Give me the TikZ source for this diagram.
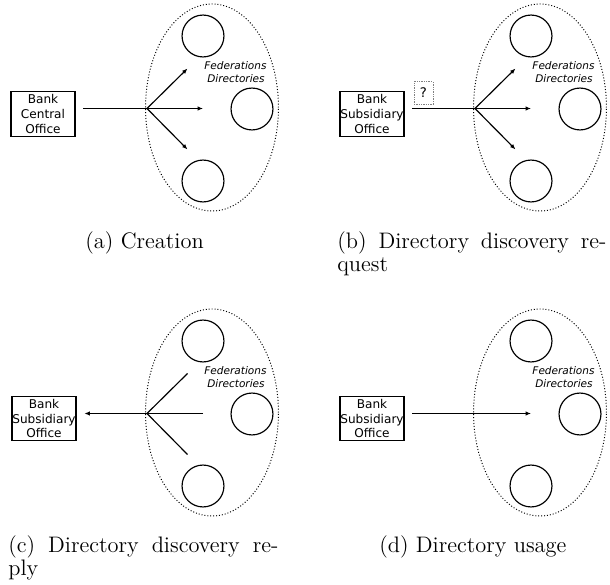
\documentclass[tikz,border=0pt]{standalone}
\usepackage{fontspec}
\newfontfamily\dvs{DejaVu Sans}
\usetikzlibrary{shapes.geometric,arrows.meta}
\newcommand\fedgroup[1]{%
  \node[fedell] (ell#1) at (212,107.5) {};
  \node[dircirc] (top#1) at (203,36) {};
  \node[dircirc] (mid#1) at (252,109) {};
  \node[dircirc] (bot#1) at (203,181) {};
  \node[fedlabel] (fed#1) at (235.5,66) {Federations};
  \node[fedlabel] (dir#1) at (236,79) {Directories};
  \coordinate (hub#1) at (147,108.5);
  \coordinate (up#1) at (187.5,68.5);
  \coordinate (rt#1) at (203,108.5);
  \coordinate (dn#1) at (187.5,149.5);
}
\begin{document}
\begin{tikzpicture}[x=0.513pt,y=-0.513pt,
  officebox/.style={draw,line width=0.6pt,inner sep=0pt,minimum width=32.8pt,minimum height=22.8pt,align=center,font=\dvs\fontsize{6.2}{7.5}\selectfont},
  fedell/.style={ellipse,draw,line width=0.5pt,dash pattern=on 0.5pt off 1pt,minimum width=68.2pt,minimum height=106.2pt,inner sep=0pt},
  dircirc/.style={circle,draw,line width=0.6pt,minimum size=21.5pt,inner sep=0pt},
  fedlabel/.style={font=\dvs\itshape\fontsize{5.4}{6.5}\selectfont,inner sep=0pt},
  qbox/.style={draw=gray,line width=0.5pt,dash pattern=on 0.6pt off 0.6pt,minimum width=9.75pt,minimum height=11.3pt,inner sep=0pt,font=\dvs\fontsize{6.8}{7.5}\selectfont},
  link/.style={line width=0.6pt},
  arr/.style={link,-{Latex[length=2.8pt,width=2.3pt]}},
  capline/.style={anchor=base west,inner sep=0pt,font=\fontsize{11.5}{13.5}\selectfont},
]
\useasboundingbox (0,0) rectangle (610,585);

% (a) Creation
\begin{scope}
  \fedgroup{a}
  \node[officebox] (boxa) at (43,114) {Bank\\Central\\Office};
  \draw[link] ([xshift=4pt]boxa.east |- huba) -- (huba);
  \draw[arr] (huba) -- (upa);
  \draw[arr] (huba) -- (rta);
  \draw[arr] (huba) -- (dna);
\end{scope}

% (b) Directory discovery request
\begin{scope}[shift={(328,0)}]
  \fedgroup{b}
  \node[officebox] (boxb) at (44,114) {Bank\\Subsidiary\\Office};
  \node[qbox] (qb) at (95.5,93) {?};
  \draw[link] ([xshift=4pt]boxb.east |- hubb) -- (hubb);
  \draw[arr] (hubb) -- (upb);
  \draw[arr] (hubb) -- (rtb);
  \draw[arr] (hubb) -- (dnb);
\end{scope}

% (c) Directory discovery reply
\begin{scope}[shift={(0,305)}]
  \fedgroup{c}
  \node[officebox] (boxc) at (44,113.5) {Bank\\Subsidiary\\Office};
  \draw[link] (upc) -- (hubc);
  \draw[link] (rtc) -- (hubc);
  \draw[link] (dnc) -- (hubc);
  \draw[arr] (hubc) -- ([xshift=4pt]boxc.east |- hubc);
\end{scope}

% (d) Directory usage
\begin{scope}[shift={(328,305)}]
  \fedgroup{d}
  \node[officebox] (boxd) at (44,113.5) {Bank\\Subsidiary\\Office};
  \draw[arr] ([xshift=4pt]boxd.east |- rtd) -- (rtd);
\end{scope}

% captions
\node[capline] (capa) at (85,249) {(a) Creation};
\node[capline] (capb1) at (337,249) {\makebox[138pt][s]{(b) Directory discovery re-}};
\node[capline] (capb2) at (337,272) {quest};
\node[capline] (capc1) at (8,552) {\makebox[138.5pt][s]{(c) Directory discovery re-}};
\node[capline] (capc2) at (8,575) {ply};
\node[capline] (capd) at (379,552) {(d) Directory usage};
\end{tikzpicture}
\end{document}
